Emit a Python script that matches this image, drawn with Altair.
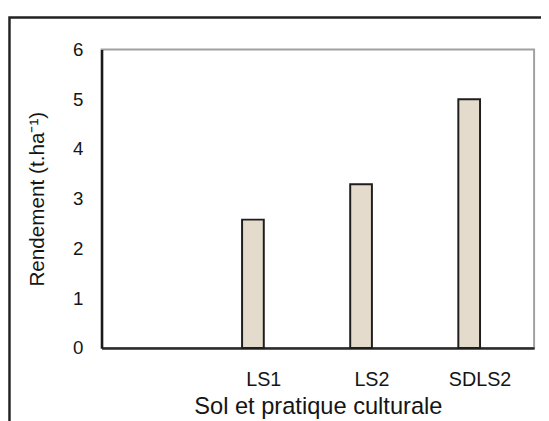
import altair as alt
import pandas as pd

categories = ["LS1", "LS2", "SDLS2"]
x_domain = [" ", "LS1", "LS2", "SDLS2"]
rendement = [2.58, 3.29, 5.0]
series = ["a", "a", "a"]
series_domain = ["l", "a", "b", "r"]
y_ticks = [0, 1, 2, 3, 4, 5, 6]

df = pd.DataFrame({"cat": categories, "val": rendement, "serie": series})

FONT = "Liberation Sans"
TXT = "#151515"

bars = alt.Chart(df).mark_bar(
    fill="#e4dbcc", stroke="#1e1e1e", strokeWidth=2
).encode(
    x=alt.X(
        "cat:N",
        scale=alt.Scale(domain=x_domain, paddingInner=0, paddingOuter=0),
        sort=x_domain,
        axis=alt.Axis(
            title="Sol et pratique culturale",
            labelAngle=0,
            ticks=False,
            labelPadding=22,
            labelFont=FONT,
            labelFontSize=20,
            labelColor=TXT,
            titleFont=FONT,
            titleFontSize=24,
            titleFontWeight="normal",
            titleColor=TXT,
            titlePadding=6,
            domainColor="#2a2a2a",
            domainWidth=2.5,
            grid=False,
        ),
    ),
    xOffset=alt.XOffset(
        "serie:N",
        scale=alt.Scale(domain=series_domain, paddingInner=0, paddingOuter=0.49),
    ),
    y=alt.Y(
        "val:Q",
        scale=alt.Scale(domain=[0, 6], nice=False),
        axis=alt.Axis(
            title="Rendement (t.ha⁻¹)",
            values=y_ticks,
            ticks=False,
            labelPadding=19,
            labelFont=FONT,
            labelFontSize=19,
            labelColor=TXT,
            titleFont=FONT,
            titleFontSize=21,
            titleFontWeight="normal",
            titleColor=TXT,
            titlePadding=25,
            domainColor="#1a1a1a",
            domainWidth=2.5,
            grid=False,
        ),
    ),
)

frame = alt.Chart(pd.DataFrame({"k": [0]})).mark_rect(
    fill=None, stroke="#222222", strokeWidth=2.5, fillOpacity=0
).encode(
    x=alt.value(-93.5),
    x2=alt.value(470),
    y=alt.value(-32.5),
    y2=alt.value(420),
)

chart = alt.layer(frame, bars).properties(
    width=439,
    height=303,
    background="white",
    autosize=alt.AutoSizeParams(type="none"),
    padding={"left": 95, "top": 39, "right": 7, "bottom": 71},
).configure_view(
    stroke="#a0a0a0", strokeWidth=2
)

chart.save("out.html", embed_options={"renderer": "svg", "actions": False})
